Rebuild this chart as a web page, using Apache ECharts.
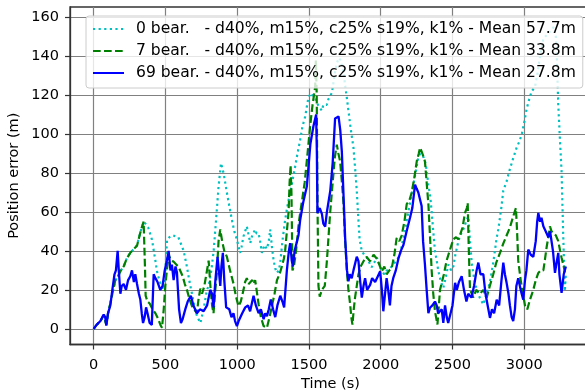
<!DOCTYPE html>
<html>
<head>
<meta charset="utf-8">
<script src="https://cdn.jsdelivr.net/npm/echarts@6/dist/echarts.min.js"></script>
<style>html,body{margin:0;padding:0;background:#fff}#c{width:585px;height:392px}</style>
</head>
<body>
<div id="c"></div>
<script>
// ---- data ----
const xTicks = [0, 500, 1000, 1500, 2000, 2500, 3000];
const yTicks = [0, 20, 40, 60, 80, 100, 120, 140, 160];
const seriesNames = [
  "0 bear.   - d40%, m15%, c25% s19%, k1% - Mean 57.7m",
  "7 bear.   - d40%, m15%, c25% s19%, k1% - Mean 33.8m",
  "69 bear. - d40%, m15%, c25% s19%, k1% - Mean 27.8m"
];
const cyanT = [0,20,47,70,88,100,116,130,151,170,190,209,230,255,280,302,320,335,350,360,380,406,429,445,464,487,500,511,534,550,569,590,603,627,650,668,685,700,720,743,766,789,801,820,836,855,870,887,905,928,945,963,980,998,1010,1021,1030,1044,1055,1067,1080,1091,1105,1125,1135,1149,1160,1172,1190,1207,1220,1230,1242,1253,1265,1276,1290,1300,1315,1334,1350,1369,1385,1404,1420,1439,1455,1474,1485,1497,1515,1531,1545,1555,1570,1590,1600,1613,1624,1636,1659,1670,1682,1694,1706,1720,1730,1741,1752,1764,1775,1787,1798,1810,1822,1833,1843,1852,1860,1868,1885,1903,1920,1937,1955,1973,1990,2007,2025,2041,2065,2087,2110,2134,2150,2169,2180,2192,2210,2227,2245,2262,2275,2285,2300,2315,2332,2345,2355,2366,2378,2390,2401,2420,2436,2455,2471,2490,2506,2520,2535,2552,2570,2590,2610,2622,2634,2650,2668,2690,2715,2738,2761,2784,2808,2819,2840,2854,2877,2900,2925,2947,2965,2982,3000,3017,3035,3052,3074,3090,3110,3133,3160,3191,3205,3214,3220,3226,3237,3248,3260,3272,3283,3290];
const cyanV = [0,2,4,7,2,8,13,18,25,27,30,32,36,39,41,43,48,52,55,55,52,45.8,35.5,28,23.6,20,30,45.8,47.5,48,47.5,47,46,40,31.7,24,18,12,6.5,3,10,20,22,30,40,58,73,85,80,70,63,56,50,45.8,42,39,42,47.5,50,52.6,48,44,48,51,49,49,45,39,43,41,45,51,42,35.5,31,28.7,30,34,45,56,63,70,76,83.4,90,97,104,109,114,119,121,119,118,116,114,112,115,116,115,118,121,126,132,136,139,138,135,132,125,118.5,112,105,99,93,82,71,58,46.7,43,40,38,36.6,34,31.6,34,36.6,33,29.8,28,29.8,31,33,35,38,44,50,55,60,67,74,81,88,90,91,88,84,74,68,60,50,40,35,29.8,24,21,27,33,30,32,38,43,47.9,50,54,57.7,45,34,26,20,16,12.5,18,24,34,46.7,51,62,71,75.7,82,88,93,96,99.6,106,113,118,122,124,130,140,149,151,153.5,155,156,150,140.7,115,98,80.8,46.7,19.3,29];

const greenT = [0,20,47,70,88,100,116,130,151,170,190,209,230,255,280,302,320,335,348,355,358,362,375,390,410,430,450,465,476,488,499,510,522,540,557,575,590,603,620,635,650,668,685,700,719,730,743,755,771,785,801,815,825,835,845,858,870,882,895,910,928,950,975,990,1009,1025,1044,1055,1067,1080,1091,1105,1115,1125,1135,1149,1165,1184,1207,1225,1242,1260,1277,1295,1311,1325,1334,1346,1358,1365,1372,1378,1385,1395,1410,1430,1450,1470,1490,1508,1525,1543,1548,1554,1560,1566,1575,1590,1610,1625,1648,1665,1680,1694,1705,1717,1730,1741,1752,1764,1775,1787,1795,1803,1812,1821,1833,1845,1860,1880,1900,1926,1950,1973,1990,2007,2025,2041,2060,2076,2095,2111,2130,2146,2165,2181,2200,2216,2235,2251,2265,2274,2290,2308,2320,2332,2345,2355,2366,2378,2388,2395,2405,2413,2425,2440,2459,2480,2506,2525,2540,2552,2570,2587,2600,2606,2612,2622,2635,2645,2665,2692,2715,2738,2760,2784,2805,2831,2855,2877,2900,2923,2942,2950,2958,2975,2993,3005,3021,3040,3063,3080,3098,3115,3133,3145,3156,3170,3179,3190,3202,3220,3237,3250,3260,3275,3283];
const greenV = [0,2,4,7,2,8,13,18,25,27,30,32,36,39,41,42.6,48,52,55,54,30,17,14,13,10,8,5,2,0.5,10,22,30,38,35,34.5,33,32,31,27,23,20,15,11.7,10,8,15,20.6,18,22,28,35,20,12,8,18,28.7,45,51,45,40,37,30,23,17,11.6,14,20,24,26,23,22,25,23,25,20,12.6,6,1.4,0.5,6,11.7,18,25,28,32,36,40,50,60,75,84,70,30,32,40,55,65,75,90,104,115,124,138,120,60,22,16.5,20,22,35,60,75,88,94.5,90,86,75,64,45,29.8,20,12.5,6,2.2,10,16,22,28,32,34.7,37,34.7,38,36,33,29.5,32,28,30,31,38,46.7,45,48,55,64,66,70,78,86,90,93,90,86,75,64,45,29.8,18,9,5,2.2,12,20,21,28,35,40,46,47,46,48,52,59.5,62,64.6,45,20,18,16,20,18,20,16,22,28,34,39,44,47.9,52,57.7,62,50,35,25,17,12,10,15,20,25,28.7,30,30,36,42,48,52.6,50,51,48,45,40,36.5,32,29];

const blueT = [0,20,47,60,70,80,88,100,116,130,145,155,167,175,186,195,209,225,240,255,267,280,290,302,315,325,335,344,355,365,375,390,405,418,430,445,464,480,495,510,522,535,545,557,570,580,595,608,620,638,655,677,695,719,740,766,790,812,825,835,848,863,872,882,890,900,910,923,945,960,974,985,998,1010,1021,1035,1056,1075,1090,1105,1114,1130,1149,1165,1184,1195,1207,1220,1234,1250,1265,1280,1300,1315,1327,1346,1360,1369,1380,1388,1400,1427,1439,1460,1485,1510,1531,1550,1555,1559,1575,1590,1600,1613,1625,1648,1665,1682,1706,1718,1729,1740,1752,1765,1775,1785,1798,1810,1821,1833,1845,1856,1868,1880,1891,1905,1926,1940,1961,1980,1996,2008,2018,2030,2041,2052,2064,2075,2087,2105,2123,2140,2158,2180,2204,2220,2239,2250,2262,2275,2285,2295,2308,2320,2332,2343,2360,2378,2390,2400,2413,2425,2436,2448,2460,2470,2483,2500,2518,2530,2545,2564,2580,2597,2610,2632,2650,2668,2680,2695,2715,2730,2745,2761,2775,2790,2808,2825,2840,2854,2865,2877,2890,2900,2912,2923,2935,2945,2958,2975,2993,3005,3015,3028,3045,3063,3080,3090,3098,3110,3120,3133,3150,3168,3180,3191,3200,3214,3225,3237,3245,3260,3275,3290];
const blueV = [0,2,4,6,7.3,6,1.7,8,12,20,28,30,40,30,18,22,23,20,25,27,30,24,28,23,18,15,8,3,6,11,8,3,2,28,26,24,20,22,30,35,40,30,33,25,32,29,10,3,5,10,14,17,12,8,10,9,12,20,18,11,25,37,30,22,32,39,25,11,10,6,8,4,1.4,4,3,8,11,12,9,14,17,12,8,10,5,8,6.5,10,15,10,6,12,17,14,11,30,40,44,35,32,40,48,56,65,73,95,104,110,90,59.5,62,59,54,52.5,60,70.6,85,108,109,102,91,70,46.7,30,24.4,28,26,30,29,37,34.7,25,16,22,26,20,22.6,26,24,27,29.5,20,9,18,26,20,12,22,26,30,36,40,43,50,57,62,74,72,70,66,63,45,33,20,8,10.8,12,14,12,8,7,10,3,12,6,3,2.2,12,23.6,20,24,27,20,14,18,16,22,30,34,28,28,18,12,5.6,10,8,15,12,24,34,28,23.6,18,12,6,4,10,22,26,20,15,25,30,40.7,38,37,45,55,59.5,55,57,52.6,50,47,50,49,40,28.7,34,39,28,18.5,28,32];

function pairs(t, v) { return t.map((x, i) => [x, v[i]]); }

const chart = echarts.init(document.getElementById('c'), null, {renderer: 'canvas'});
const FONT = 'DejaVu Sans';
const TICKFS = 14.5;
chart.setOption({
  animation: false,
  backgroundColor: '#ffffff',
  textStyle: {fontFamily: FONT},
  grid: {left: 70, top: 7, right: -6, bottom: 47.5, containLabel: false, outerBoundsMode: 'none',
         show: true, borderColor: '#333', borderWidth: 1.3, backgroundColor: 'transparent'},
  legend: {
    orient: 'vertical', left: 86, top: 16,
    padding: [5, 7, 7, 6], itemGap: 6, itemWidth: 31, itemHeight: 14,
    backgroundColor: 'rgba(255,255,255,0.8)', borderColor: '#cccccc', borderWidth: 1, borderRadius: 3,
    itemStyle: {color: 'transparent', borderColor: 'transparent', borderWidth: 0, opacity: 0},
    textStyle: {fontFamily: FONT, fontSize: 15.55, lineHeight: 16, color: '#000', padding: [0, 0, 0, 7]},
    data: seriesNames
  },
  xAxis: {
    type: 'value', min: -165, max: 3465, splitNumber: 7,
    name: 'Time (s)', nameLocation: 'middle', nameGap: 32.5, nameMoveOverlap: false,
    nameTextStyle: {fontFamily: FONT, fontSize: TICKFS, color: '#000'},
    axisLine: {show: true, onZero: false, lineStyle: {color: '#333', width: 1.3}},
    axisTick: {show: true, length: 5, inside: false, customValues: xTicks, lineStyle: {color: '#333', width: 1.2}},
    axisLabel: {fontFamily: FONT, fontSize: TICKFS, color: '#000', margin: 13, customValues: xTicks, formatter: v => String(v)},
    splitLine: {show: true, lineStyle: {color: '#808080', width: 1.2}}
  },
  yAxis: {
    type: 'value', min: -8.05, max: 165.2, splitNumber: 8,
    name: 'Position error (m)', nameLocation: 'middle', nameGap: 48, nameMoveOverlap: false,
    nameTextStyle: {fontFamily: FONT, fontSize: TICKFS, color: '#000'},
    axisLine: {show: true, onZero: false, lineStyle: {color: '#333', width: 1.3}},
    axisTick: {show: true, length: 5, inside: false, customValues: yTicks, lineStyle: {color: '#333', width: 1.2}},
    axisLabel: {fontFamily: FONT, fontSize: TICKFS, color: '#000', margin: 11, customValues: yTicks, formatter: v => String(v)},
    splitLine: {show: true, lineStyle: {color: '#808080', width: 1.2}}
  },
  series: [
    {name: seriesNames[0], type: 'line', symbol: 'none', showSymbol: false, data: pairs(cyanT, cyanV),
     lineStyle: {color: '#00bfbf', width: 2.2, type: [2.2, 3.4], cap: 'butt'}, itemStyle: {color: '#00bfbf'}, z: 2},
    {name: seriesNames[1], type: 'line', symbol: 'none', showSymbol: false, data: pairs(greenT, greenV),
     lineStyle: {color: '#008000', width: 2.2, type: [7.7, 3.3], cap: 'butt'}, itemStyle: {color: '#008000'}, z: 3},
    {name: seriesNames[2], type: 'line', symbol: 'none', showSymbol: false, data: pairs(blueT, blueV),
     lineStyle: {color: '#0000ff', width: 2.3, type: 'solid'}, itemStyle: {color: '#0000ff'}, z: 4}
  ]
});
</script>
</body>
</html>
